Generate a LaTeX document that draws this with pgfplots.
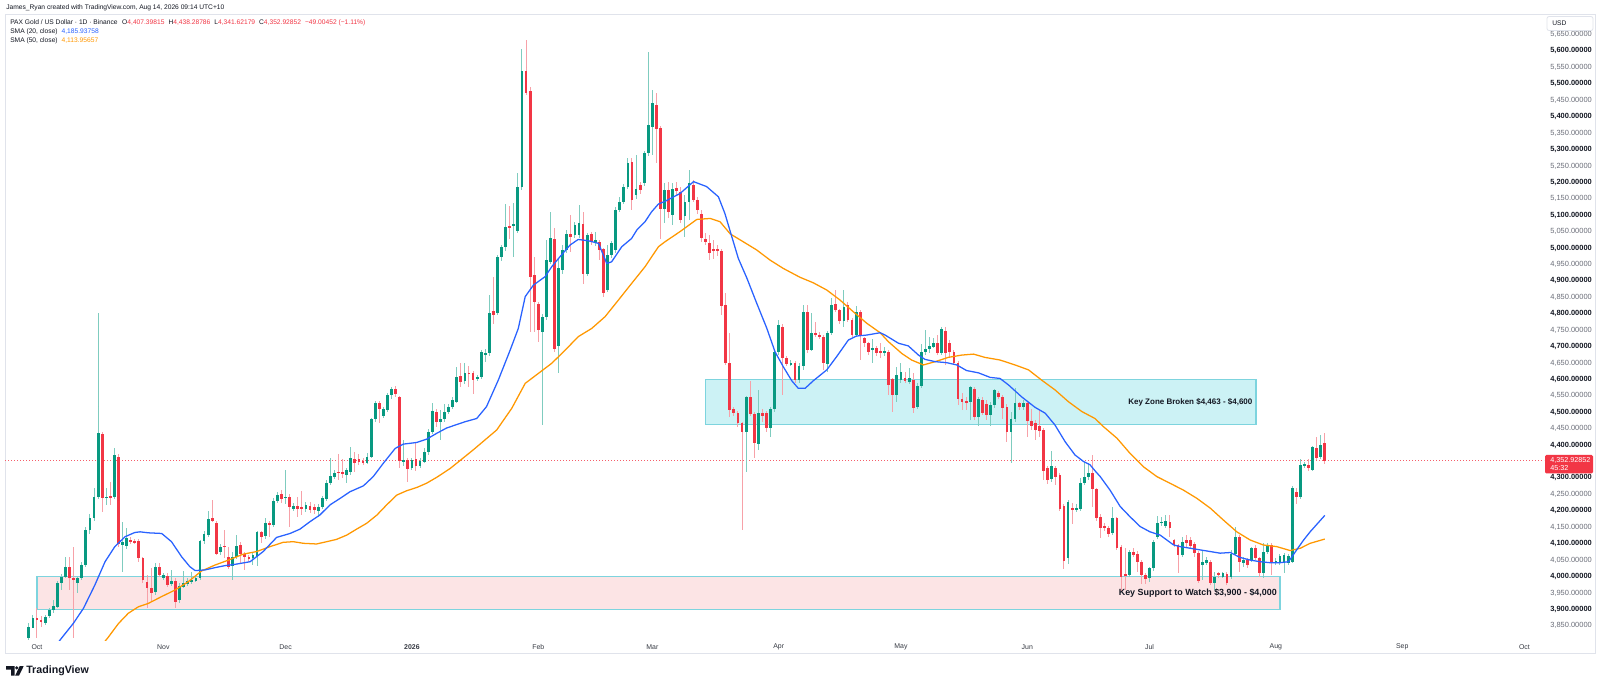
\documentclass[border=0pt]{standalone}
\usepackage{fontspec}
\setmainfont{Liberation Sans}
\usepackage{pgfplots}
\usepackage{pgfplotstable}
\pgfplotsset{compat=1.18}
\definecolor{tvgreen}{HTML}{089981}
\definecolor{tvred}{HTML}{F23645}
\definecolor{tvgwick}{HTML}{7FCCBF}
\definecolor{tvrwick}{HTML}{F7A1A8}
\definecolor{tvblue}{HTML}{2962FF}
\definecolor{tvorange}{HTML}{FF9800}
\definecolor{tvtext}{HTML}{131722}
\definecolor{tvgray}{HTML}{6A6D78}
\definecolor{tvborder}{HTML}{E0E3EB}
\definecolor{zonefill}{HTML}{CCF2F5}
\definecolor{zoneline}{HTML}{7DD4DE}
\definecolor{pinkfill}{HTML}{FCE4E5}
\newcommand{\tn}[1]{\textcolor{tvgray}{#1}}
\newcommand{\tb}[1]{\textcolor{tvtext}{\bfseries #1}}
\pgfplotsset{candle/.style={only marks, mark=*, mark size=0pt, mark options={draw=none, fill=none}, forget plot}}

\pgfplotstableread{
d o h l c
-2 3812 3857 3807 3847
-1 3844 3883 3842 3874
0 3874 3903 3812 3868
1 3868 3880 3845 3860
2 3857 3883 3852 3878
3 3881 3905 3875 3898
4 3898 3928 3890 3911
5 3908 3985 3905 3979
6 3979 4008 3959 4000
7 4000 4060 3995 4030
8 4030 4060 3959 3994
9 3996 4091 3812 3989
10 3979 4000 3949 3994
11 3994 4045 3990 4035
12 4035 4150 4030 4141
13 4141 4190 4130 4177
14 4177 4268 4170 4243
15 4243 4801 4235 4436
16 4433 4440 4197 4238
17 4238 4268 4218 4243
18 4245 4289 4218 4241
19 4241 4390 4235 4370
20 4365 4372 4090 4098
21 4096 4167 4015 4106
22 4094 4147 4085 4116
23 4111 4120 4100 4106
24 4109 4115 4098 4104
25 4108 4115 4045 4055
26 4055 4060 3980 3989
27 3984 4004 3903 3964
28 3964 4025 3923 3949
29 3954 4040 3944 4030
30 4030 4040 4000 4004
31 3994 4012 3990 4006
32 4001 4010 3968 3974
33 3976 4020 3970 3986
34 3986 3995 3903 3923
35 3928 3980 3920 3972
36 3969 4017 3965 3979
37 3978 3995 3972 3986
38 3982 4015 3978 3989
39 3986 4002 3982 3996
40 3994 4112 3990 4108
41 4108 4140 4100 4128
42 4126 4199 4120 4175
43 4178 4233 4165 4170
44 4162 4170 4065 4070
45 4074 4098 4066 4089
46 4094 4141 4055 4090
47 4058 4090 4022 4030
48 4032 4075 3990 4060
49 4060 4126 4052 4093
50 4096 4106 4040 4068
51 4068 4075 4020 4060
52 4060 4065 4045 4055
53 4055 4075 4035 4065
54 4062 4140 4032 4136
55 4136 4140 4101 4121
56 4123 4177 4115 4162
57 4162 4170 4121 4156
58 4157 4240 4150 4231
59 4231 4258 4223 4248
60 4251 4262 4225 4235
61 4238 4324 4220 4243
62 4243 4250 4152 4213
63 4207 4225 4200 4214
64 4214 4243 4182 4207
65 4212 4261 4187 4206
66 4205 4228 4196 4218
67 4215 4228 4192 4203
68 4213 4220 4190 4201
69 4198 4220 4182 4211
70 4211 4245 4205 4238
71 4235 4294 4230 4286
72 4284 4360 4278 4306
73 4304 4325 4298 4316
74 4319 4373 4294 4316
75 4319 4357 4299 4312
76 4309 4330 4284 4324
77 4319 4395 4310 4360
78 4357 4380 4319 4345
79 4357 4373 4340 4350
80 4352 4362 4340 4347
81 4347 4375 4342 4365
82 4365 4483 4360 4478
83 4478 4535 4470 4527
84 4527 4535 4466 4509
85 4489 4517 4481 4509
86 4507 4560 4500 4552
87 4552 4576 4540 4570
88 4570 4580 4545 4556
89 4547 4550 4329 4353
90 4350 4416 4335 4355
91 4355 4360 4289 4326
92 4330 4362 4323 4355
93 4357 4405 4320 4335
94 4336 4360 4330 4351
95 4350 4390 4345 4380
96 4380 4450 4370 4441
97 4441 4529 4435 4504
98 4502 4510 4456 4471
99 4470 4507 4416 4478
100 4478 4525 4470 4502
101 4500 4524 4495 4517
102 4517 4545 4510 4537
103 4532 4637 4528 4606
104 4610 4651 4578 4593
105 4596 4651 4585 4618
106 4621 4640 4578 4617
107 4620 4625 4557 4598
108 4602 4612 4595 4608
109 4608 4690 4600 4684
110 4674 4694 4654 4681
111 4679 4857 4670 4801
112 4808 4913 4770 4796
113 4801 4978 4796 4973
114 4973 5010 4960 5002
115 5002 5134 4990 5065
116 5067 5128 5029 5063
117 5067 5138 4973 5073
118 5053 5227 5045 5187
119 5187 5605 5176 5540
120 5540 5633 5465 5473
121 5478 5490 4745 4913
122 4918 4973 4745 4837
123 4829 4835 4715 4750
124 4745 4800 4461 4791
125 4789 5024 4780 4963
126 4958 5110 4950 5029
127 5026 5060 4684 4694
128 4702 4968 4618 4938
129 4933 5009 4920 4994
130 4994 5055 4985 5042
131 5044 5100 4988 5034
132 5039 5080 5030 5070
133 5039 5131 5030 5075
134 5073 5110 4892 4921
135 4921 5047 4915 5039
136 5042 5050 5010 5019
137 5014 5050 5005 5024
138 5019 5025 4963 4994
139 4996 5000 4852 4862
140 4872 5009 4865 4979
141 4979 5020 4970 5014
142 4994 5125 4985 5116
143 5116 5156 5110 5141
144 5141 5195 5135 5187
145 5187 5273 5180 5258
146 5263 5275 5116 5146
147 5161 5283 5150 5181
148 5192 5200 5165 5176
149 5197 5295 5190 5288
150 5288 5598 5280 5374
151 5369 5481 5283 5440
152 5435 5471 5258 5361
153 5364 5370 5029 5120
154 5120 5197 5075 5177
155 5177 5200 5090 5110
156 5100 5197 5070 5180
157 5182 5200 5160 5172
158 5171 5185 5075 5085
159 5097 5160 5035 5141
160 5141 5237 5085 5199
161 5192 5207 5140 5146
162 5146 5155 5105 5116
163 5105 5115 5019 5029
164 5027 5045 5009 5019
165 5016 5040 4963 4984
166 4996 5024 4968 4992
167 4996 5009 4975 4990
168 4992 4998 4796 4823
169 4826 4862 4645 4651
170 4651 4740 4487 4507
171 4509 4515 4490 4499
172 4499 4505 4455 4466
173 4466 4470 4141 4441
174 4441 4550 4319 4545
175 4545 4596 4490 4495
176 4495 4500 4360 4405
177 4403 4568 4385 4497
178 4497 4510 4470 4490
179 4497 4505 4440 4451
180 4451 4515 4426 4509
181 4509 4690 4500 4684
182 4684 4781 4675 4766
183 4761 4770 4552 4664
184 4664 4670 4640 4647
185 4645 4658 4640 4651
186 4649 4655 4590 4598
187 4598 4650 4590 4641
188 4641 4826 4630 4806
189 4806 4826 4680 4689
190 4691 4801 4685 4742
191 4742 4776 4728 4735
192 4735 4745 4722 4730
193 4730 4735 4629 4649
194 4647 4748 4624 4740
195 4740 4847 4735 4826
196 4829 4872 4805 4811
197 4811 4815 4770 4779
198 4779 4872 4760 4819
199 4826 4836 4775 4781
200 4781 4786 4728 4735
201 4735 4823 4730 4806
202 4806 4812 4659 4732
203 4725 4730 4700 4710
204 4710 4715 4675 4684
205 4689 4722 4651 4697
206 4697 4702 4670 4681
207 4687 4710 4664 4681
208 4682 4700 4670 4687
209 4684 4690 4552 4583
210 4600 4605 4502 4552
211 4552 4639 4532 4613
212 4598 4649 4590 4623
213 4603 4623 4588 4595
214 4593 4634 4585 4603
215 4598 4618 4497 4512
216 4515 4590 4510 4580
217 4580 4708 4575 4684
218 4684 4750 4674 4694
219 4692 4730 4680 4702
220 4700 4725 4695 4712
221 4712 4735 4674 4681
222 4681 4760 4675 4752
223 4748 4760 4644 4679
224 4710 4720 4668 4684
225 4684 4690 4644 4649
226 4649 4655 4522 4539
227 4541 4558 4507 4532
228 4535 4547 4507 4529
229 4532 4580 4476 4576
230 4570 4576 4476 4487
231 4487 4546 4458 4539
232 4537 4547 4492 4499
233 4525 4537 4476 4492
234 4492 4530 4458 4522
235 4522 4570 4512 4568
236 4558 4566 4539 4547
237 4547 4552 4478 4512
238 4517 4525 4408 4441
239 4441 4502 4346 4478
240 4478 4573 4470 4529
241 4527 4532 4507 4517
242 4515 4537 4507 4527
243 4529 4535 4426 4474
244 4474 4509 4446 4458
245 4468 4475 4416 4446
246 4458 4507 4426 4444
247 4446 4452 4294 4322
248 4329 4335 4282 4294
249 4296 4383 4288 4336
250 4329 4336 4279 4304
251 4309 4315 4198 4204
252 4215 4220 4022 4048
253 4055 4233 4038 4228
254 4207 4225 4160 4204
255 4202 4222 4197 4210
256 4207 4299 4200 4286
257 4286 4350 4280 4304
258 4302 4347 4295 4316
259 4316 4370 4213 4265
260 4265 4270 4170 4177
261 4182 4190 4116 4147
262 4154 4164 4140 4147
263 4147 4153 4120 4129
264 4131 4213 4125 4177
265 4177 4182 4080 4086
266 4091 4095 3954 4000
267 4007 4086 3959 4001
268 4005 4082 4000 4076
269 4076 4086 4060 4066
270 4070 4078 4015 4045
271 4045 4050 3977 4005
272 4005 4010 3977 3992
273 3994 4030 3984 4025
274 4025 4112 4018 4106
275 4121 4184 4115 4162
276 4162 4180 4155 4167
277 4155 4187 4148 4170
278 4167 4187 4121 4147
279 4111 4115 4090 4096
280 4096 4100 4012 4066
281 4066 4121 4060 4106
282 4111 4126 4091 4101
283 4111 4120 4085 4093
284 4099 4105 4060 4072
285 4072 4078 3980 3987
286 4035 4081 3989 4045
287 4042 4060 4035 4050
288 4045 4050 3975 3981
289 3981 4015 3959 4000
290 4010 4015 3995 4004
291 4000 4015 3995 4010
292 4008 4015 3975 3979
293 3998 4080 3992 4070
294 4070 4152 4065 4121
295 4121 4127 4015 4045
296 4042 4060 4030 4050
297 4050 4055 4025 4035
298 4050 4090 4045 4086
299 4086 4095 4050 4055
300 4055 4060 4000 4012
301 4012 4101 3994 4076
302 4076 4101 4070 4096
303 4096 4101 4005 4040
304 4040 4055 4035 4048
305 4042 4070 4035 4062
306 4042 4072 4012 4066
307 4042 4070 4035 4062
308 4045 4275 4040 4268
309 4258 4270 4221 4241
310 4243 4357 4235 4339
311 4336 4350 4330 4341
312 4340 4357 4320 4330
313 4324 4398 4320 4393
314 4390 4424 4355 4360
315 4363 4431 4358 4400
316 4407.4 4438.3 4341.6 4352.9
}\candles

\begin{document}
\begin{tikzpicture}
\fill[white] (0pt,0pt) rectangle (1200pt,514.5pt);
\path[use as bounding box] (0pt,0pt) rectangle (1200pt,514.5pt);
% frame
\draw[tvborder, line width=0.75pt] (3.75pt,24.75pt) rectangle (1196.25pt,503.25pt);

\begin{axis}[
  at={(3.75pt,34.5pt)}, anchor=south west,
  width=1154.25pt, height=468.75pt, scale only axis,
  xmin=-7.85, xmax=369.8, ymin=3806.7, ymax=5709.3,
  axis line style={draw=none},
  major tick length=0pt, tick style={draw=none},
  xtick={0,31,61,92,123,151,182,212,243,273,304,335,365},
  xticklabels={Oct,Nov,Dec,{\bfseries 2026},Feb,Mar,Apr,May,Jun,Jul,Aug,Sep,Oct},
  xticklabel style={font=\fontsize{5.2pt}{6pt}\selectfont, text=tvtext!85, anchor=center, yshift=-5.25pt, inner sep=0pt},
  ytick={3850,3900,...,5650},
  yticklabels={{\tn{3,850.00000}},{\tb{3,900.00000}},{\tn{3,950.00000}},{\tb{4,000.00000}},{\tn{4,050.00000}},{\tb{4,100.00000}},{\tn{4,150.00000}},{\tb{4,200.00000}},{\tn{4,250.00000}},{\tb{4,300.00000}},{},{\tb{4,400.00000}},{\tn{4,450.00000}},{\tb{4,500.00000}},{\tn{4,550.00000}},{\tb{4,600.00000}},{\tn{4,650.00000}},{\tb{4,700.00000}},{\tn{4,750.00000}},{\tb{4,800.00000}},{\tn{4,850.00000}},{\tb{4,900.00000}},{\tn{4,950.00000}},{\tb{5,000.00000}},{\tn{5,050.00000}},{\tb{5,100.00000}},{\tn{5,150.00000}},{\tb{5,200.00000}},{\tn{5,250.00000}},{\tb{5,300.00000}},{\tn{5,350.00000}},{\tb{5,400.00000}},{\tn{5,450.00000}},{\tb{5,500.00000}},{\tn{5,550.00000}},{\tb{5,600.00000}},{\tn{5,650.00000}}},
  yticklabel pos=right,
  yticklabel style={font=\fontsize{5.6pt}{6.5pt}\selectfont, anchor=west, inner sep=0pt, xshift=4.5pt},
]
% zones
\addplot[fill=pinkfill, draw=zoneline, line width=1pt, forget plot] coordinates {(0,3900) (305,3900) (305,4000) (0,4000)} -- cycle;
\addplot[fill=zonefill, draw=zoneline, line width=0.9pt, forget plot] coordinates {(164.1,4463) (299.1,4463) (299.1,4600) (164.1,4600)} -- cycle;
% current price dotted line
\addplot[tvred!80, line width=0.6pt, dash pattern=on 0.75pt off 1.5pt, forget plot] coordinates {(-7.85,4352.93) (369.8,4352.93)};
% wicks
\addplot[candle,
  restrict expr to domain={\thisrow{c}-\thisrow{o}}{0:100000},
  error bars/.cd, y dir=both, y explicit, error mark=none,
  error bar style={line width=0.75pt, draw=tvgwick}]
  table[x=d, y expr={(\thisrow{h}+\thisrow{l})/2}, y error expr={(\thisrow{h}-\thisrow{l})/2}] {\candles};
\addplot[candle,
  restrict expr to domain={\thisrow{c}-\thisrow{o}}{-100000:-0.001},
  error bars/.cd, y dir=both, y explicit, error mark=none,
  error bar style={line width=0.75pt, draw=tvrwick}]
  table[x=d, y expr={(\thisrow{h}+\thisrow{l})/2}, y error expr={(\thisrow{h}-\thisrow{l})/2}] {\candles};
% bodies
\addplot[candle,
  restrict expr to domain={\thisrow{c}-\thisrow{o}}{0:100000},
  error bars/.cd, y dir=both, y explicit, error mark=none,
  error bar style={line width=2.1pt, draw=tvgreen}]
  table[x=d, y expr={(\thisrow{o}+\thisrow{c})/2}, y error expr={max(abs(\thisrow{c}-\thisrow{o})/2,1.6)}] {\candles};
\addplot[candle,
  restrict expr to domain={\thisrow{c}-\thisrow{o}}{-100000:-0.001},
  error bars/.cd, y dir=both, y explicit, error mark=none,
  error bar style={line width=2.1pt, draw=tvred}]
  table[x=d, y expr={(\thisrow{o}+\thisrow{c})/2}, y error expr={max(abs(\thisrow{c}-\thisrow{o})/2,1.6)}] {\candles};
% SMA 50
\addplot[tvorange, line width=0.95pt, line join=round, mark=none] coordinates {
(16.5,3800) (17.3,3812) (20,3857) (22.4,3888) (24.9,3908) (27.3,3918) (30.6,3939) (33.9,3959) (37.1,3984) (40.4,4017) (43.7,4035) (47,4050) (50.6,4068) (53.9,4076) (57.2,4091) (60.4,4104) (62.9,4106) (65.4,4101) (68.6,4099) (71.1,4106) (73.5,4113) (76,4126) (78.4,4144) (80.9,4162) (83.4,4187) (85.8,4218) (88.3,4248) (90.7,4261) (93.2,4271) (95.6,4284) (98.1,4302) (101.4,4329) (107,4385) (112.8,4446) (116.5,4512) (119.8,4588) (123,4618) (126.3,4649) (129.6,4689) (132.8,4730) (136.1,4755) (139.4,4791) (142.7,4842) (145.9,4892) (149.2,4943) (152.5,5004) (154.1,5019) (157.8,5050) (161.9,5087) (165.2,5090) (167.6,5080) (170.1,5043) (173.3,5019) (176.6,4994) (179.9,4963) (183.1,4938) (187.2,4911) (190.5,4894) (193.8,4872) (197,4842) (200.3,4806) (203.6,4771) (206.9,4742) (208.9,4715) (212.2,4679) (214.6,4659) (217.5,4644) (220.4,4654) (223.6,4667) (226.9,4674) (229.8,4677) (232.6,4667) (236.3,4659) (240,4644) (243.3,4629) (246.5,4598) (249.8,4568) (253.1,4532) (256.4,4502) (259.6,4481) (261.7,4456) (265,4421) (268.2,4375) (271.5,4334) (274.8,4304) (278,4284) (281.3,4263) (284.6,4238) (287.9,4208) (291.1,4172) (294.4,4136) (297.7,4111) (300.9,4096) (304.2,4091) (307.5,4079) (310,4086) (312.4,4101) (316,4114)
};
% SMA 20
\addplot[tvblue, line width=0.95pt, line join=round, mark=none] coordinates {
(5,3796) (6,3812) (8.9,3857) (11.4,3903) (14.2,3974) (16.7,4045) (19.1,4091) (21.6,4121) (24,4134) (25.3,4136) (27.3,4133) (30.6,4131) (33,4106) (35.5,4060) (37.5,4030) (38.8,4018) (41.2,4020) (43.7,4027) (46.1,4033) (48.6,4037) (52.3,4045) (55.5,4076) (58.8,4119) (62.1,4131) (64.5,4144) (67,4167) (69.4,4187) (71.9,4218) (74.4,4238) (76.8,4258) (80.1,4276) (82.5,4304) (85,4345) (87.9,4390) (89.9,4403) (93.2,4408) (95.6,4418) (98.1,4436) (100.5,4452) (105,4471) (107.9,4481) (110.3,4517) (113.2,4598) (116.1,4689) (118.1,4755) (119.8,4852) (121.8,4887) (124.7,4913) (126.3,4943) (128.3,4973) (130.8,5009) (132.8,5026) (135.3,5022) (137.8,5014) (139.8,4953) (141,4958) (143.5,5004) (145.9,5029) (147.2,5055) (149.2,5080) (150.8,5110) (152.5,5134) (154.1,5142) (157.8,5166) (161.1,5202) (164.3,5187) (167.2,5156) (168.8,5105) (170.5,5034) (172.1,4968) (174.2,4908) (176.6,4832) (179.1,4755) (181.1,4684) (183.1,4639) (185.2,4596) (186.8,4573) (188.5,4573) (190.5,4596) (193.8,4629) (196.2,4669) (199.1,4720) (201.1,4732) (203.6,4735) (206.9,4742) (208.1,4735) (211.4,4710) (213.8,4702) (216.3,4674) (217.9,4661) (220.4,4654) (223.2,4651) (225.7,4644) (228.1,4627) (231,4620) (233.9,4606) (236.3,4603) (238.4,4583) (241.6,4547) (244.9,4515) (247.4,4497) (249.8,4461) (252.3,4410) (254.7,4370) (256.8,4350) (258.4,4340) (259.6,4322) (260.9,4304) (263.3,4263) (265.8,4213) (268.2,4182) (270.7,4152) (273.1,4136) (275.6,4126) (278.9,4096) (280.5,4091) (283,4086) (285.4,4081) (287.9,4076) (290.3,4071) (292.8,4073) (295.2,4058) (297.7,4050) (300.1,4045) (302.6,4042) (305,4042) (307.1,4045) (309.1,4081) (310.8,4111) (312.4,4136) (316,4186)
};
\node[anchor=east, inner sep=0pt, font=\bfseries\fontsize{6pt}{7pt}\selectfont, text=tvtext] at (axis cs:298.3,4531.5) {Key Zone Broken \$4,463 - \$4,600};
\node[anchor=east, inner sep=0pt, font=\bfseries\fontsize{6.7pt}{7.5pt}\selectfont, text=tvtext] at (axis cs:304.3,3948) {Key Support to Watch \$3,900 - \$4,000};
\end{axis}

% header texts
\node[anchor=west, inner sep=0pt, font=\fontsize{5pt}{6pt}\selectfont, text=tvtext] at (4.5pt,508.9pt) {James\_Ryan created with TradingView.com, Aug 14, 2026 09:14 UTC+10};
\node[anchor=west, inner sep=0pt, font=\fontsize{5pt}{6pt}\selectfont, text=tvtext] at (7.5pt,497.6pt) {PAX Gold / US Dollar · 1D · Binance\hspace{0.7em}O\textcolor{tvred}{4,407.39815}\hspace{0.6em}H\textcolor{tvred}{4,438.28786}\hspace{0.6em}L\textcolor{tvred}{4,341.62179}\hspace{0.6em}C\textcolor{tvred}{4,352.92852}\hspace{0.6em}\textcolor{tvred}{−49.00452 (−1.11\%)}};
\node[anchor=west, inner sep=0pt, font=\fontsize{5pt}{6pt}\selectfont, text=tvtext] at (7.5pt,490.5pt) {SMA (20, close)\hspace{0.6em}\textcolor{tvblue}{4,185.93758}};
\node[anchor=west, inner sep=0pt, font=\fontsize{5pt}{6pt}\selectfont, text=tvtext] at (7.5pt,484.1pt) {SMA (50, close)\hspace{0.6em}\textcolor{tvorange}{4,113.95657}};

% USD box
\draw[tvborder, fill=white, rounded corners=1.5pt, line width=0.6pt] (1160.25pt,502.1pt) rectangle (1194.75pt,491.6pt);
\node[anchor=west, inner sep=0pt, font=\fontsize{5pt}{6pt}\selectfont, text=tvtext] at (1164pt,496.9pt) {USD};

% price box
\fill[tvred, rounded corners=1pt] (1158.75pt,173.25pt) rectangle (1194.75pt,159.4pt);
\node[anchor=west, inner sep=0pt, font=\fontsize{5.4pt}{6pt}\selectfont, text=white] at (1162.5pt,168.9pt) {4,352.92852};
\node[anchor=west, inner sep=0pt, font=\fontsize{5.4pt}{6pt}\selectfont, text=white] at (1162.5pt,163.2pt) {45:32};

% TradingView logo
\fill[tvtext] (4.5pt,15pt) -- (10.875pt,15pt) -- (10.875pt,7.875pt) -- (8.25pt,7.875pt) -- (8.25pt,12.375pt) -- (4.5pt,12.375pt) -- cycle;
\fill[tvtext] (12.6pt,13.6pt) circle (1.35pt);
\fill[tvtext] (14.8pt,15pt) -- (17.8pt,15pt) -- (14.3pt,7.875pt) -- (11.4pt,7.875pt) -- cycle;
\node[anchor=west, inner sep=0pt, font=\bfseries\fontsize{8pt}{9pt}\selectfont, text=tvtext] at (19.5pt,11.6pt) {TradingView};
\end{tikzpicture}
\end{document}
